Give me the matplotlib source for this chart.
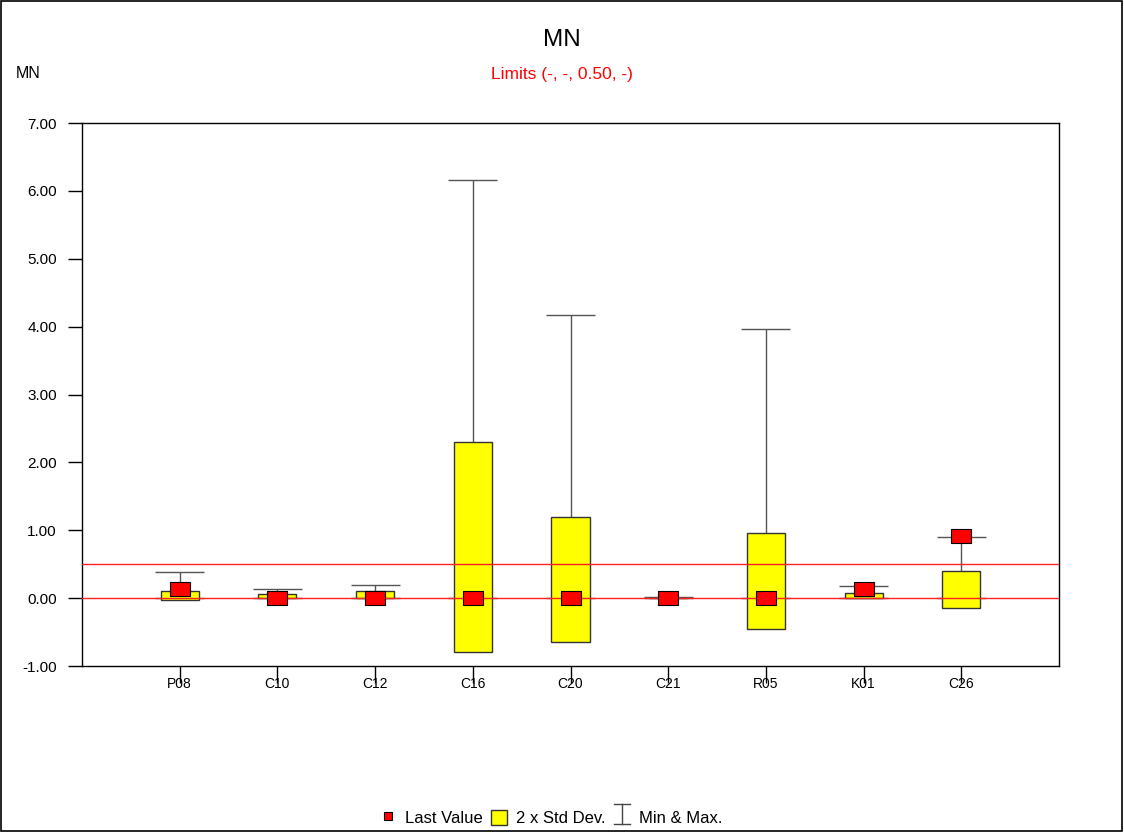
import numpy as np
import matplotlib
matplotlib.use("Agg")
import matplotlib.pyplot as plt
from matplotlib.path import Path
from matplotlib.markers import MarkerStyle
from matplotlib.patches import Patch, Rectangle
from matplotlib.lines import Line2D
from matplotlib.legend_handler import HandlerBase

plt.rcParams["font.family"] = ["Liberation Sans", "DejaVu Sans"]

# valores
categorias = ["P08", "C10", "C12", "C16", "C20", "C21", "R05", "K01", "C26"]
ultimo = [0.13, 0.00, 0.00, 0.00, 0.00, 0.00, 0.00, 0.14, 0.91]
caja_inf = [-0.03, 0.00, 0.00, -0.80, -0.65, 0.00, -0.45, 0.00, -0.14]
caja_sup = [0.10, 0.06, 0.10, 2.30, 1.19, 0.00, 0.96, 0.07, 0.40]
v_min = [0.00, 0.00, 0.00, 0.00, 0.00, 0.00, 0.00, 0.00, 0.00]
v_max = [0.39, 0.13, 0.19, 6.16, 4.17, 0.01, 3.96, 0.18, 0.90]
limites = [0.50, 0.00]


class HandlerIBeam(HandlerBase):
    def create_artists(self, legend, orig, xd, yd, w, h, fs, trans):
        cx = xd + w / 2
        c = "#444444"
        return [
            Line2D([cx, cx], [yd - 0.15 * h, yd + 1.15 * h], color=c, lw=1, transform=trans),
            Line2D([cx - w / 2, cx + w / 2], [yd + 1.15 * h] * 2, color=c, lw=1, transform=trans),
            Line2D([cx - w / 2, cx + w / 2], [yd - 0.15 * h] * 2, color=c, lw=1, transform=trans),
        ]


fig = plt.figure(figsize=(11.24, 8.32), dpi=100)
ax = fig.add_axes([82 / 1124, 1 - 666 / 832, 977 / 1124, 543 / 832])

x = np.arange(1, len(categorias) + 1)
lo = np.array(caja_inf); hi = np.array(caja_sup)
gris = "#555555"

# bigotes y topes
ax.vlines(x, hi, v_max, color=gris, lw=1, zorder=1)
ax.vlines(x, v_min, lo, color=gris, lw=1, zorder=1)
ax.hlines(v_max, x - 0.25, x + 0.25, color=gris, lw=1, zorder=1)
ax.hlines(v_min, x - 0.25, x + 0.25, color=gris, lw=1, zorder=1)

# cajas 2 x desv. std
ax.bar(x, hi - lo, bottom=lo, width=0.39, color="#FFFF00", edgecolor="#333333",
       lw=1, zorder=2)

for lim in limites:
    ax.axhline(lim, color="#FF2020", lw=1, zorder=3)

rect = Path([(-1, -0.684), (1, -0.684), (1, 0.684), (-1, 0.684), (-1, -0.684)], closed=True)
ax.plot(x, ultimo, ls="none", marker=MarkerStyle(rect), ms=14, mfc="#FF0000",
        mec="black", mew=0.8, zorder=4)

ax.set_xlim(0, 10)
ax.set_ylim(-1, 7)
ax.set_xticks(x)
ax.set_xticklabels(categorias, fontsize=10)
yt = np.arange(-1, 8, 1)
ax.set_yticks(yt)
ax.set_yticklabels([f"{v:.2f}" for v in yt], fontsize=11)
ax.tick_params(axis="y", direction="out", length=10, width=1, pad=8)
ax.tick_params(axis="x", direction="out", length=12, width=1, pad=-4)
for s in ax.spines.values():
    s.set_linewidth(1.0)
    s.set_color("black")

fig.text(0.5, 1 - 40 / 832, "MN", ha="center", va="center", fontsize=17.5)
fig.text(0.5, 1 - 74 / 832, "Limits (-, -, 0.50, -)", ha="center", va="center",
         fontsize=12.5, color="#FF0000")
fig.text(16 / 1124, 1 - 74 / 832, "MN", ha="left", va="center", fontsize=11.5)

h_ult = Line2D([], [], ls="none", marker="s", ms=6, mfc="#FF0000", mec="black", mew=0.8)
h_std = Patch(facecolor="#FFFF00", edgecolor="#333333", lw=1)
h_mm = object()
fig.legend([h_ult, h_std, h_mm], ["Last Value", "2 x Std Dev.", "Min & Max."],
           loc="center", bbox_to_anchor=(0.49, 1 - 818 / 832), ncol=3, frameon=False,
           fontsize=12, handlelength=1.0, handleheight=1.0, handletextpad=0.5,
           columnspacing=0.5, handler_map={h_mm: HandlerIBeam()})

fig.patches.append(Rectangle((0.0005, 0.0008), 0.998, 0.9985, transform=fig.transFigure,
                             fill=False, edgecolor="black", lw=1.2))

fig.savefig("out.png", dpi=100)
